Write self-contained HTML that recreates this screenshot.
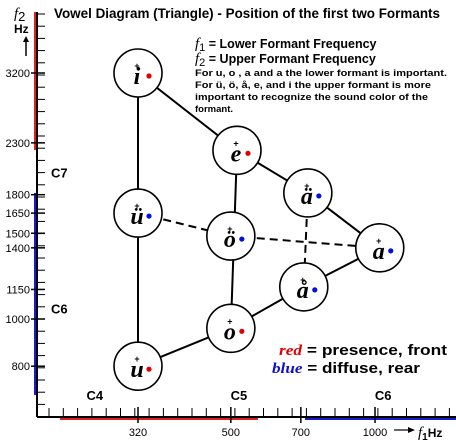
<!DOCTYPE html>
<html><head><meta charset="utf-8"><style>
body{margin:0;background:#fff;}
svg{display:block;font-family:"Liberation Sans",sans-serif;}
</style></head><body>
<svg id="chart" width="456" height="448" viewBox="0 0 456 448">
<g id="axes"></g><g id="links"></g><g id="vowels"></g>
<text x="54" y="18" font-size="13.5" font-weight="bold" textLength="386" lengthAdjust="spacingAndGlyphs">Vowel Diagram (Triangle) - Position of the first two Formants</text>
<text x="14" y="18" font-size="15" font-style="italic" font-family="Liberation Serif">f<tspan font-size="13" font-style="normal" font-family="Liberation Sans" dy="3">2</tspan></text>
<text x="14" y="33" font-size="12" font-weight="bold">Hz</text>
<line x1="26" y1="56" x2="26" y2="40" stroke="#000" stroke-width="1.5"/>
<polygon points="23,42 26,36 29,42" fill="#000"/>
<g font-size="12.5" font-weight="bold">
<text x="195" y="48"><tspan font-family="Liberation Serif" font-style="italic" font-weight="normal" font-size="15">f</tspan><tspan font-size="11" font-weight="normal" dy="3">1</tspan><tspan dy="-3"> = Lower Formant Frequency</tspan></text>
<text x="195" y="63"><tspan font-family="Liberation Serif" font-style="italic" font-weight="normal" font-size="15">f</tspan><tspan font-size="11" font-weight="normal" dy="3">2</tspan><tspan dy="-3"> = Upper Formant Frequency</tspan></text>
</g>
<g font-size="9.5" font-weight="bold">
<text x="195" y="76" textLength="252" lengthAdjust="spacingAndGlyphs">For u, o , a and a the lower formant is important.</text>
<text x="195" y="88" textLength="236" lengthAdjust="spacingAndGlyphs">For ü, ö, å, e, and i the upper formant is more</text>
<text x="195" y="100" textLength="233" lengthAdjust="spacingAndGlyphs">important to recognize the sound color of the</text>
<text x="195" y="112">formant.</text>
</g>
<g font-size="15" font-weight="bold">
<text x="279" y="355" textLength="168" lengthAdjust="spacingAndGlyphs"><tspan fill="#e00000" font-family="Liberation Serif" font-style="italic">red</tspan> = presence, front</text>
<text x="272" y="373" textLength="148" lengthAdjust="spacingAndGlyphs"><tspan fill="#1010d0" font-family="Liberation Serif" font-style="italic">blue</tspan> = diffuse, rear</text>
</g>
<text x="418" y="437" font-size="12" font-weight="bold"><tspan font-family="Liberation Serif" font-style="italic" font-weight="normal" font-size="15">f</tspan><tspan font-size="10" dy="3">1</tspan><tspan dy="-3">Hz</tspan></text>
<line x1="394" y1="430" x2="410" y2="430" stroke="#000" stroke-width="1.2"/>
<polygon points="408,427 415,430 408,433" fill="#000"/>
</svg>
<script>
const yTicks=[3200,2300,1800,1650,1500,1400,1150,1000,800];
const xTicks=[320,500,700,1000];
const vowelNames=['i','e','ä','a','ü','ö','å','o','u'];
const vowelF1=[320,515,724,1023,320,500,710,500,320];
const vowelF2=[3200,2220,1815,1400,1650,1480,1164,957,800];
const vowelColor=['red','red','blue','blue','blue','blue','blue','red','red'];
const solidLinks=[[0,8],[0,1],[1,2],[2,3],[3,6],[6,7],[7,8],[1,7]];
const dashedLinks=[[4,5],[5,3],[2,6]];
const octaveY=[['C7',2000],['C6',1050]];
const octaveX=[['C4',260],['C5',520],['C6',1040]];
const NS='http://www.w3.org/2000/svg';
function X(f){return 138+(Math.log10(f)-Math.log10(320))*479;}
function Y(f){return 73+(Math.log10(3200)-Math.log10(f))*487;}
function el(t,a,p){const e=document.createElementNS(NS,t);for(const k in a)e.setAttribute(k,a[k]);p.appendChild(e);return e;}
const ax=document.getElementById('axes');
el('rect',{x:34,y:12,width:3,height:138,fill:'#e02020'},ax);
el('rect',{x:34,y:193,width:3,height:202,fill:'#1a1ad0'},ax);
el('rect',{x:60,y:417,width:198,height:3,fill:'#e02020'},ax);
el('rect',{x:305,y:417,width:151,height:3,fill:'#1a1ad0'},ax);
const ya=el('line',{x1:37,y1:12,x2:37,y2:417,stroke:'#000','stroke-width':2},ax);


const xa=el('line',{x1:37,y1:417,x2:456,y2:417,stroke:'#000','stroke-width':2},ax);


for(let y=14;y<412;y+=12.2){el('line',{x1:37,y1:y,x2:45,y2:y,stroke:'#000','stroke-width':1},ax);}
for(let x=49;x<452;x+=14.3){el('line',{x1:x,y1:417,x2:x,y2:408,stroke:'#000','stroke-width':1},ax);}
yTicks.forEach(v=>{const y=Y(v);el('line',{x1:31,y1:y,x2:45,y2:y,stroke:'#000','stroke-width':1.5},ax);
const t=el('text',{x:30,y:y+4,'font-size':11,'text-anchor':'end'},ax);t.textContent=v;

});
xTicks.forEach(v=>{const x=X(v);el('line',{x1:x,y1:407,x2:x,y2:423,stroke:'#000','stroke-width':1.5},ax);
const t=el('text',{x:x,y:436,'font-size':11,'text-anchor':'middle'},ax);t.textContent=v;

});
octaveY.forEach(o=>{const t=el('text',{x:51,y:Y(o[1])+5,'font-size':13,'font-weight':'bold'},ax);t.textContent=o[0];

});
octaveX.forEach(o=>{const t=el('text',{x:X(o[1]),y:400,'font-size':13,'font-weight':'bold','text-anchor':'middle'},ax);t.textContent=o[0];

});
const lk=document.getElementById('links');
solidLinks.forEach(p=>{const l=el('line',{x1:X(vowelF1[p[0]]),y1:Y(vowelF2[p[0]]),x2:X(vowelF1[p[1]]),y2:Y(vowelF2[p[1]]),stroke:'#000','stroke-width':2},lk);

});
dashedLinks.forEach(p=>{const l=el('line',{x1:X(vowelF1[p[0]]),y1:Y(vowelF2[p[0]]),x2:X(vowelF1[p[1]]),y2:Y(vowelF2[p[1]]),stroke:'#000','stroke-width':2,'stroke-dasharray':'8,5'},lk);

});
const vg=document.getElementById('vowels');
vowelNames.forEach((n,i)=>{const cx=X(vowelF1[i]),cy=Y(vowelF2[i]);
const g=el('g',{},vg);


el('circle',{cx:cx,cy:cy,r:24,fill:'#fff',stroke:'#000','stroke-width':1.6},g);
el('text',{x:cx-1,y:cy+11,'font-size':24,'font-style':'italic','font-weight':'bold','font-family':'Liberation Serif','text-anchor':'middle'},g).textContent=n;
el('text',{x:cx-1,y:cy-4,'font-size':9,'font-weight':'bold','text-anchor':'middle'},g).textContent='+';
el('circle',{cx:cx+11,cy:cy+3,r:2.6,fill:vowelColor[i]==='red'?'#e00000':'#0010e0'},g);});
</script>
</body></html>
